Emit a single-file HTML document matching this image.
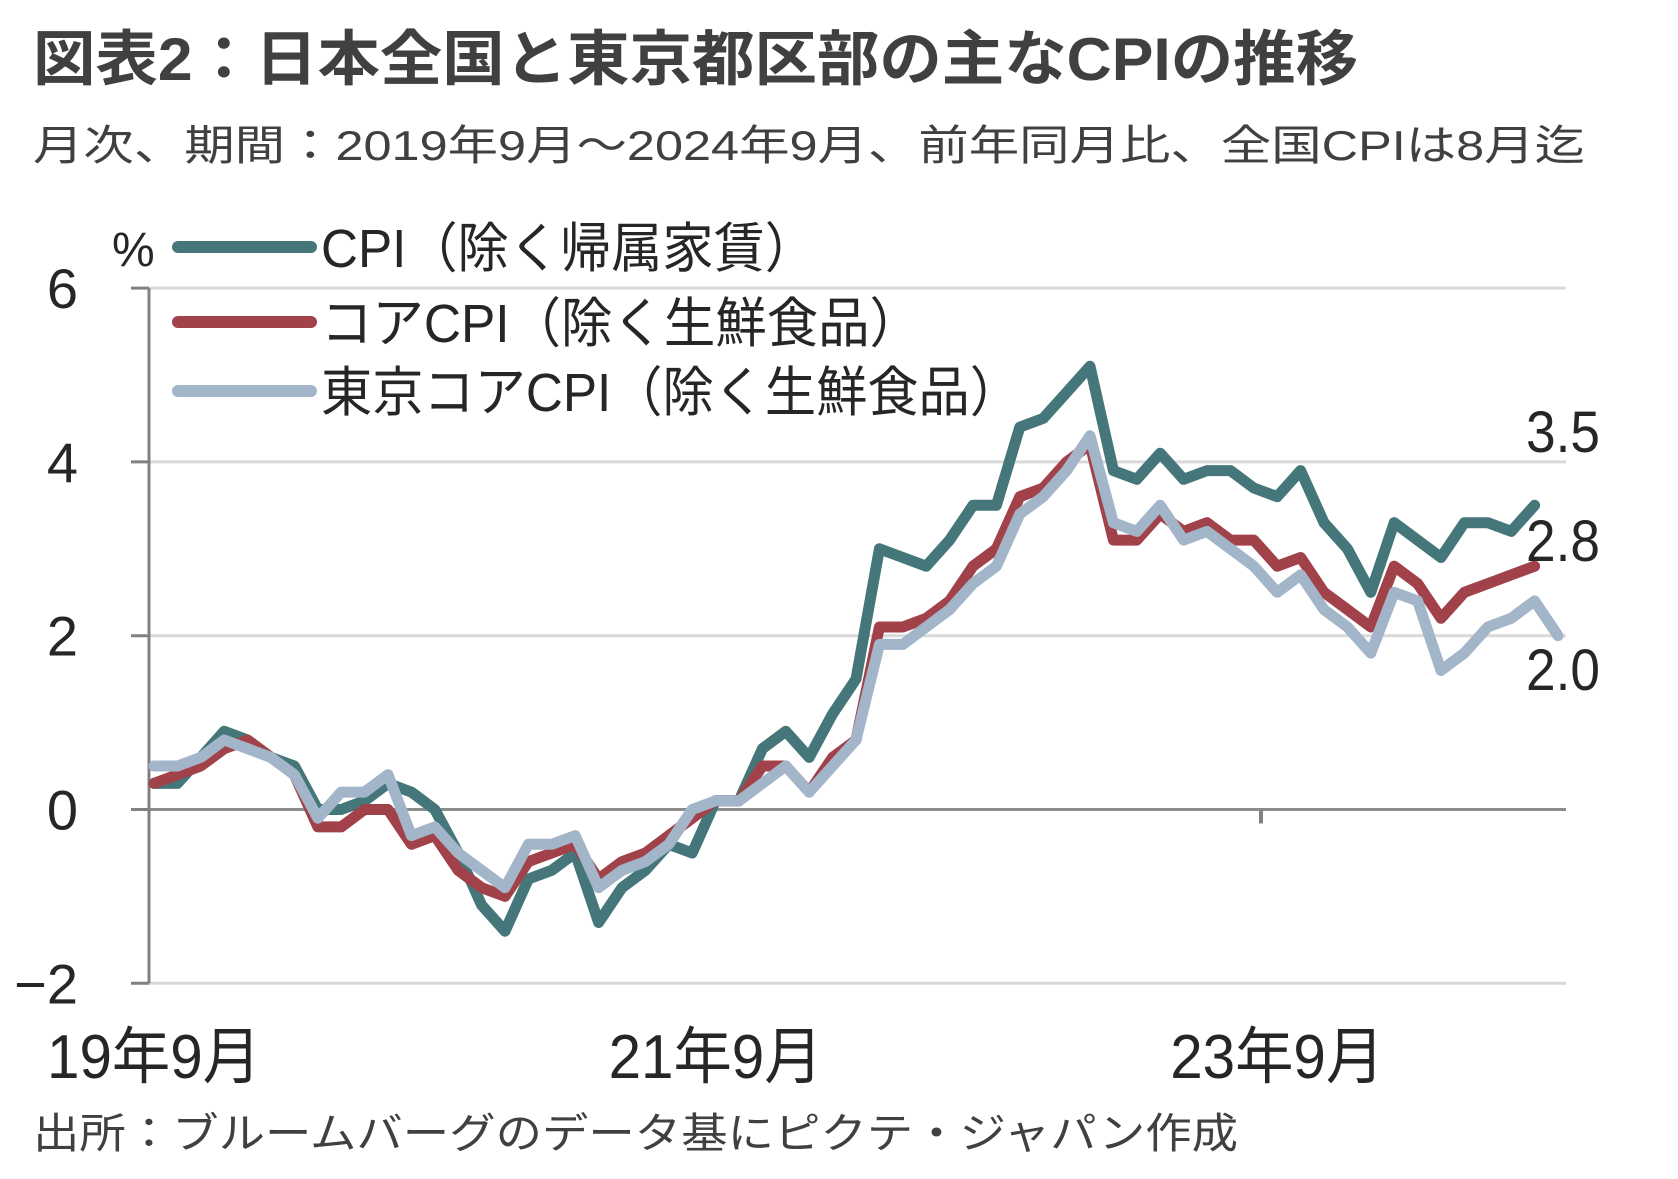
<!DOCTYPE html>
<html><head><meta charset="utf-8">
<style>
html,body{margin:0;padding:0;background:#fff;}
svg{display:block;font-family:"Liberation Sans","Noto Sans CJK JP",sans-serif;}
</style></head>
<body>
<svg id="chart" width="1678" height="1179" viewBox="0 0 1678 1179" xmlns="http://www.w3.org/2000/svg">
<text x="33" y="80" font-size="60" font-weight="bold" fill="#404040" textLength="1325" lengthAdjust="spacingAndGlyphs">図表2：日本全国と東京都区部の主なCPIの推移</text>
<text x="33" y="160" font-size="42" fill="#404040" textLength="1552" lengthAdjust="spacingAndGlyphs">月次、期間：2019年9月～2024年9月、前年同月比、全国CPIは8月迄</text>
<g id="grid"></g>
<g id="axes"></g>
<g id="series"></g>
<g id="legend"></g>
<text x="33" y="1148" font-size="42" fill="#404040" textLength="1205" lengthAdjust="spacingAndGlyphs">出所：ブルームバーグのデータ基にピクテ・ジャパン作成</text>
</svg>
<script>
const yTicks = [6, 4, 2, 0, -2];
const xLabels = ["19年9月", "21年9月", "23年9月"];
const xLabelIdx = [0, 24, 48];
const cpiExRent = [0.3,0.3,0.6,0.9,0.8,0.6,0.5,0.0,0.0,0.1,0.3,0.2,0.0,-0.5,-1.1,-1.4,-0.8,-0.7,-0.5,-1.3,-0.9,-0.7,-0.4,-0.5,0.1,0.1,0.7,0.9,0.6,1.1,1.5,3.0,2.9,2.8,3.1,3.5,3.5,4.4,4.5,4.8,5.1,3.9,3.8,4.1,3.8,3.9,3.9,3.7,3.6,3.9,3.3,3.0,2.5,3.3,3.1,2.9,3.3,3.3,3.2,3.5];
const coreCpi = [0.3,0.4,0.5,0.7,0.8,0.6,0.4,-0.2,-0.2,0.0,0.0,-0.4,-0.3,-0.7,-0.9,-1.0,-0.6,-0.5,-0.4,-0.8,-0.6,-0.5,-0.3,-0.1,0.1,0.1,0.5,0.5,0.2,0.6,0.8,2.1,2.1,2.2,2.4,2.8,3.0,3.6,3.7,4.0,4.2,3.1,3.1,3.4,3.2,3.3,3.1,3.1,2.8,2.9,2.5,2.3,2.1,2.8,2.6,2.2,2.5,2.6,2.7,2.8];
const tokyoCore = [0.5,0.5,0.6,0.8,0.7,0.6,0.4,-0.1,0.2,0.2,0.4,-0.3,-0.2,-0.5,-0.7,-0.9,-0.4,-0.4,-0.3,-0.9,-0.7,-0.6,-0.4,0.0,0.1,0.1,0.3,0.5,0.2,0.5,0.8,1.9,1.9,2.1,2.3,2.6,2.8,3.4,3.6,3.9,4.3,3.3,3.2,3.5,3.1,3.2,3.0,2.8,2.5,2.7,2.3,2.1,1.8,2.5,2.4,1.6,1.8,2.1,2.2,2.4,2.0];
const endLabels = ["3.5", "2.8", "2.0"];
const seriesNames = ["CPI（除く帰属家賃）", "コアCPI（除く生鮮食品）", "東京コアCPI（除く生鮮食品）"];

const NS = "http://www.w3.org/2000/svg";
const x0 = 154, xStep = 23.4;
const xs = i => x0 + i * xStep;
const ys = v => 809.5 - v * 86.9;
function mk(tag, attrs, parent, txt) {
  const e = document.createElementNS(NS, tag);
  for (const k in attrs) e.setAttribute(k, attrs[k]);
  if (txt !== undefined) e.textContent = txt;
  parent.appendChild(e);
  return e;
}
const grid = document.getElementById('grid');
const axes = document.getElementById('axes');
const ser = document.getElementById('series');
const leg = document.getElementById('legend');

yTicks.forEach(t => {
  const g = mk('line', {x1: 149, x2: 1566, y1: ys(t), y2: ys(t), stroke: t === 0 ? '#8c8c8c' : '#d9d9d9', 'stroke-width': 3}, grid);
  
  
  const tk = mk('line', {x1: 131, x2: 149, y1: ys(t), y2: ys(t), stroke: '#808080', 'stroke-width': 3}, axes);
  
  
  const lb = mk('text', {x: 78, y: ys(t) + 20, 'font-size': 56, 'text-anchor': 'end', fill: '#262626'}, axes, t < 0 ? '\u2212' + Math.abs(t) : String(t));
  
  
});
const yax = mk('line', {x1: 149, x2: 149, y1: ys(6), y2: ys(-2), stroke: '#808080', 'stroke-width': 3}, axes);


const xt = mk('line', {x1: 1261, x2: 1261, y1: ys(0), y2: ys(0) + 14, stroke: '#808080', 'stroke-width': 4}, axes);


xLabels.forEach((l, i) => {
  const t = mk('text', {x: xs(xLabelIdx[i]), y: 1078, 'font-size': 62, 'text-anchor': 'middle', fill: '#262626', textLength: 214, lengthAdjust: 'spacingAndGlyphs'}, axes, l);
  
  
});
const pct = mk('text', {x: 112, y: 266, 'font-size': 48, fill: '#262626'}, axes, '%');



const colors = ['#44767A', '#A1424A', '#A3B5C9'];
const data = [cpiExRent, coreCpi, tokyoCore];
[0, 1, 2].forEach(s => {
  const d = data[s].map((v, i) => (i ? 'L' : 'M') + xs(i).toFixed(1) + ',' + ys(v).toFixed(1)).join(' ');
  const p = mk('path', {d: d, fill: 'none', stroke: colors[s], 'stroke-width': 11, 'stroke-linejoin': 'round', 'stroke-linecap': 'round'}, ser);
  
  
});
const endY = [452, 561, 690];
endLabels.forEach((l, i) => {
  const t = mk('text', {x: 1526, y: endY[i], 'font-size': 58, fill: '#262626', textLength: 74, lengthAdjust: 'spacingAndGlyphs'}, ser, l);
  
  
});
const legY = [247, 322, 391];
const legW = [495, 600, 700];
seriesNames.forEach((n, i) => {
  const ln = mk('line', {x1: 178, x2: 311, y1: legY[i], y2: legY[i], stroke: colors[i], 'stroke-width': 12, 'stroke-linecap': 'round'}, leg);
  
  
  const t = mk('text', {x: 321, y: legY[i] + 20, 'font-size': 54, fill: '#262626', textLength: legW[i], lengthAdjust: 'spacingAndGlyphs'}, leg, n);
  
  
});
</script>
</body></html>
